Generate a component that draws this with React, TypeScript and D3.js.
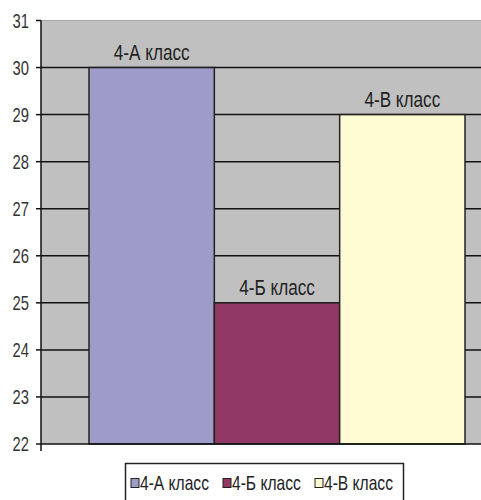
import React from "react";
import * as d3 from "d3";

const categories = ["4-А класс", "4-Б класс", "4-В класс"];
const values = [30, 25, 29];
const colors = ["#9d9bc7", "#923864", "#fffbd2"];
const yTicks = [22, 23, 24, 25, 26, 27, 28, 29, 30, 31];

const W = 481;
const H = 500;
const FONT = "'Liberation Sans', Arial, sans-serif";

function NText(props: { x: number; y: number; size: number; sx: number; anchor?: string; fill?: string; children: React.ReactNode }) {
  return (
    <text
      transform={`translate(${props.x},${props.y}) scale(${props.sx},1)`}
      textAnchor={props.anchor || "start"}
      fontSize={props.size}
      fill={props.fill || "#222"}
    >
      {props.children}
    </text>
  );
}

export default function App() {
  const plotLeft = 41;
  const plotRight = 481;
  const plotTop = 20.5;
  const plotBottom = 444;

  const y = d3.scaleLinear().domain([22, 31]).range([plotBottom, plotTop]);
  const x = d3.scaleBand<string>().domain(categories).range([89, 465]).padding(0);

  return (
    <svg
      width={W}
      height={H}
      style={{ position: "absolute", left: 0, top: 0, background: "#fff" }}
      fontFamily={FONT}
    >
      <rect x={plotLeft} y={plotTop} width={plotRight - plotLeft} height={plotBottom - plotTop} fill="#c0c0c0" />
      <line x1={plotLeft} x2={plotRight} y1={plotTop} y2={plotTop} stroke="#a8a8a8" strokeWidth={1} />
      {yTicks.slice(1, -1).map((t) => (
        <line key={"g" + t} x1={plotLeft} x2={plotRight} y1={y(t)} y2={y(t)} stroke="#111" strokeWidth={1.5} />
      ))}
      {categories.map((c, i) => (
        <g key={c}>
          <rect
            x={x(c)}
            y={y(values[i])}
            width={x.bandwidth()}
            height={plotBottom - y(values[i])}
            fill={colors[i]}
            stroke="#222"
            strokeWidth={1.5}
          />
          <NText x={(x(c) as number) + x.bandwidth() / 2} y={y(values[i]) - 8} size={22} sx={0.78} anchor="middle">
            {c}
          </NText>
        </g>
      ))}
      <line x1={plotLeft} x2={plotLeft} y1={plotTop} y2={plotBottom + 7} stroke="#111" strokeWidth={1.5} />
      <line x1={plotLeft} x2={plotRight} y1={plotBottom} y2={plotBottom} stroke="#111" strokeWidth={1.5} />
      {yTicks.map((t) => (
        <g key={"t" + t}>
          <line x1={plotLeft - 5} x2={plotLeft} y1={y(t)} y2={y(t)} stroke="#111" strokeWidth={1.5} />
          <NText x={29} y={y(t) + 7} size={20} sx={0.74} anchor="end" fill="#333">
            {t}
          </NText>
        </g>
      ))}
      <rect x={125.5} y={463.5} width={278} height={40} fill="#fff" stroke="#222" strokeWidth={1.5} />
      {categories.map((c, i) => {
        const lx = 131 + i * 92;
        return (
          <g key={"l" + c}>
            <rect x={lx} y={478.5} width={8} height={9} fill={colors[i]} stroke="#222" strokeWidth={1} />
            <NText x={lx + 9} y={489.5} size={20} sx={0.78}>
              {c}
            </NText>
          </g>
        );
      })}
    </svg>
  );
}
